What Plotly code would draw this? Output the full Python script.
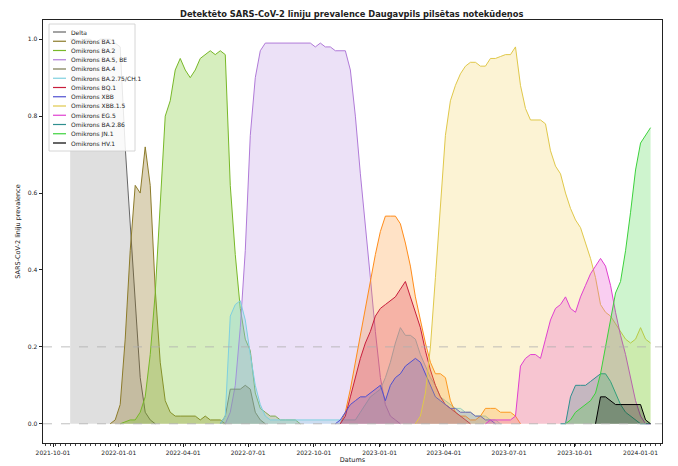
import pandas as pd
import plotly.graph_objects as go

TITLE = "Detektēto SARS-CoV-2 līniju prevalence Daugavpils pilsētas notekūdeņos"
X_LABEL = "Datums"
Y_LABEL = "SARS-CoV-2 līniju prevalence"
WEEK0 = "2021-10-25"  # first weekly sample

# each series: (first weekly index, weekly values)
delta = (0, [1.0, 1.0, 0.99, 1.0, 1.0, 0.99, 1.0, 1.0, 1.0, 0.99, 0.98, 0.72, 0.52, 0.30, 0.12, 0.03, 0.01, 0.0])
ba1 = (8, [0.0, 0.01, 0.05, 0.22, 0.45, 0.62, 0.60, 0.72, 0.62, 0.35, 0.16, 0.06, 0.03, 0.02, 0.02, 0.02,
           0.02, 0.02, 0.01, 0.02, 0.01, 0.01, 0.01, 0.0])
ba2 = (10, [0.0, 0.005, 0.01, 0.01, 0.03, 0.07, 0.18, 0.34, 0.58, 0.80, 0.84, 0.92, 0.95, 0.92, 0.90, 0.92,
            0.95, 0.96, 0.97, 0.96, 0.97, 0.96, 0.62, 0.44, 0.30, 0.22, 0.19, 0.08, 0.04, 0.03, 0.02, 0.02,
            0.01, 0.01, 0.01, 0.01, 0.0])
ba5 = (31, [0.0, 0.03, 0.10, 0.25, 0.45, 0.75, 0.90, 0.97, 0.99, 0.99, 0.99, 0.99, 0.99, 0.99, 0.99, 0.99,
            0.99, 0.99, 0.98, 0.99, 0.98, 0.98, 0.97, 0.97, 0.97, 0.92, 0.80, 0.65, 0.52, 0.38, 0.24, 0.12,
            0.05, 0.02, 0.01, 0.0])
ba4 = (30, [0.0, 0.02, 0.09, 0.09, 0.09, 0.10, 0.09, 0.03, 0.01, 0.0])
ba275 = (30, [0.0, 0.02, 0.28, 0.31, 0.32, 0.27, 0.18, 0.10, 0.05, 0.02, 0.01, 0.01, 0.01, 0.01, 0.01, 0.01,
              0.01, 0.01, 0.01, 0.01, 0.01, 0.01, 0.01, 0.01, 0.01, 0.01, 0.01, 0.01, 0.03, 0.05, 0.07, 0.08,
              0.09, 0.12, 0.16, 0.21, 0.25, 0.23, 0.23, 0.22, 0.18, 0.15, 0.12, 0.10, 0.07, 0.06, 0.05, 0.04,
              0.04, 0.03, 0.03, 0.02, 0.02, 0.02, 0.01, 0.01, 0.0])
bf7 = (54, [0.0, 0.03, 0.09, 0.16, 0.24, 0.31, 0.38, 0.44, 0.50, 0.54, 0.54, 0.54, 0.52, 0.47, 0.41, 0.33,
            0.27, 0.21, 0.16, 0.13, 0.13, 0.12, 0.06, 0.03, 0.02, 0.02, 0.01, 0.01, 0.02, 0.04, 0.04, 0.04,
            0.03, 0.03, 0.03, 0.02, 0.0])
bq1 = (54, [0.0, 0.02, 0.07, 0.12, 0.17, 0.21, 0.24, 0.28, 0.30, 0.31, 0.32, 0.33, 0.35, 0.37, 0.33, 0.29,
            0.25, 0.19, 0.14, 0.10, 0.07, 0.05, 0.04, 0.03, 0.02, 0.01, 0.0])
xbb = (53, [0.0, 0.01, 0.03, 0.05, 0.06, 0.07, 0.07, 0.08, 0.09, 0.10, 0.06, 0.10, 0.12, 0.13, 0.15, 0.16,
            0.17, 0.16, 0.13, 0.10, 0.07, 0.06, 0.05, 0.04, 0.04, 0.03, 0.03, 0.03, 0.02, 0.02, 0.01, 0.01, 0.0])
xbb15 = (69, [0.0, 0.02, 0.08, 0.20, 0.38, 0.58, 0.75, 0.84, 0.88, 0.91, 0.93, 0.94, 0.94, 0.93, 0.93, 0.95,
              0.95, 0.955, 0.96, 0.96, 0.98, 0.88, 0.82, 0.79, 0.79, 0.79, 0.78, 0.71, 0.67, 0.65, 0.60, 0.56,
              0.53, 0.51, 0.47, 0.43, 0.38, 0.31, 0.29, 0.28, 0.26, 0.24, 0.22, 0.21, 0.22, 0.25, 0.22, 0.21])
eg5 = (83, [0.0, 0.01, 0.01, 0.01, 0.01, 0.01, 0.02, 0.15, 0.17, 0.18, 0.18, 0.17, 0.22, 0.27, 0.30, 0.31,
            0.33, 0.30, 0.29, 0.33, 0.36, 0.39, 0.41, 0.43, 0.41, 0.36, 0.29, 0.23, 0.18, 0.12, 0.06, 0.02,
            0.0, 0.0])
ba286 = (98, [0.0, 0.0, 0.07, 0.10, 0.10, 0.10, 0.11, 0.12, 0.13, 0.13, 0.11, 0.08, 0.05, 0.03, 0.02, 0.01,
              0.0, 0.0, 0.0])
jn1 = (99, [0.0, 0.01, 0.03, 0.04, 0.05, 0.06, 0.08, 0.13, 0.20, 0.27, 0.34, 0.37, 0.45, 0.55, 0.66, 0.73,
            0.75, 0.77])
hv1 = (105, [0.0, 0.07, 0.07, 0.06, 0.05, 0.05, 0.05, 0.05, 0.05, 0.05, 0.01, 0.0])

# (name, data, line colour, fill colour, in legend)
SERIES = [
    ("Delta", delta, "#666666", "rgba(128,128,128,0.25)", True),
    ("Omikrons BA.1", ba1, "#8c7b2a", "rgba(140,110,20,0.30)", True),
    ("Omikrons BA.2", ba2, "#78b828", "rgba(120,200,40,0.30)", True),
    ("Omikrons BA.5, BE", ba5, "#b07ad8", "rgba(170,120,220,0.22)", True),
    ("Omikrons BA.4", ba4, "#7a7a50", "rgba(120,120,80,0.30)", True),
    ("Omikrons BA.2.75/CH.1", ba275, "#7fd0e0", "rgba(127,208,224,0.30)", True),
    ("Omikrons BF.7", bf7, "#ff8c1a", "rgba(255,140,26,0.25)", False),
    ("Omikrons BQ.1", bq1, "#c81e3c", "rgba(220,40,70,0.25)", True),
    ("Omikrons XBB", xbb, "#5050d0", "rgba(80,80,208,0.20)", True),
    ("Omikrons XBB.1.5", xbb15, "#e0c84a", "rgba(240,200,60,0.22)", True),
    ("Omikrons EG.5", eg5, "#e040d0", "rgba(230,60,200,0.25)", True),
    ("Omikrons BA.2.86", ba286, "#2f8f8f", "rgba(47,143,143,0.25)", True),
    ("Omikrons JN.1", jn1, "#3cd23c", "rgba(60,210,60,0.25)", True),
    ("Omikrons HV.1", hv1, "#000000", "rgba(0,0,0,0.25)", True),
]

fig = go.Figure()
for name, (start, vals), lc, fc, _ in SERIES:
    dates = pd.date_range(WEEK0, periods=start + len(vals), freq="7D")[start:]
    fig.add_trace(go.Scatter(x=dates, y=vals, name=name, mode="lines",
                             line=dict(color=lc, width=1), fill="tozeroy", fillcolor=fc,
                             showlegend=False))

shapes = []
for yv in (0.0, 0.2):
    shapes.append(dict(type="line", xref="paper", yref="y", x0=0, x1=1, y0=yv, y1=yv,
                       line=dict(color="#b0b0b0", width=0.8, dash="dash"), layer="above"))

# legend drawn as text + sample lines (matplotlib-like compact legend)
PW, PH = 619.0, 423.0
def px(x):
    return (x - 43) / PW
def py(y):
    return (443 - y) / PH

shapes.append(dict(type="rect", xref="paper", yref="paper", x0=px(49), x1=px(135), y0=py(151), y1=py(24),
                   fillcolor="rgba(255,255,255,0.85)", line=dict(color="#cccccc", width=0.8), layer="above"))
annotations = []
legend_items = [s for s in SERIES if s[4]]
for i, (name, _, lc, _, _) in enumerate(legend_items):
    yy = 32 + 9.25 * i
    shapes.append(dict(type="line", xref="paper", yref="paper", x0=px(53), x1=px(66), y0=py(yy), y1=py(yy),
                       line=dict(color=lc, width=1.2), layer="above"))
    annotations.append(dict(text=name, xref="paper", yref="paper", x=px(69), y=py(yy), xanchor="left",
                            yanchor="middle", showarrow=False,
                            font=dict(family="DejaVu Sans", size=6, color="#222222")))

# the page body has an 8px margin, so the figure is 8px smaller each way
fig.update_layout(
    width=670, height=458,
    margin=dict(l=35, r=16, t=12, b=23, autoexpand=False),
    paper_bgcolor="white", plot_bgcolor="white",
    font=dict(family="DejaVu Sans", color="#222222"),
    title=dict(text="<b>" + TITLE + "</b>", x=0.513, xanchor="center", y=0.987, yanchor="middle",
               font=dict(size=8.3)),
    shapes=shapes, annotations=annotations,
    showlegend=False,
)
fig.update_xaxes(type="date", range=["2021-09-17", "2024-01-31"], tick0="2021-10-01", dtick="M3",
                 tickformat="%Y-%m-%d", ticks="outside", ticklen=3.5, tickcolor="#222222",
                 tickfont=dict(size=6), showline=True, mirror=True, linecolor="#222222", linewidth=0.8,
                 showgrid=False, zeroline=False, automargin=False,
                 minor=dict(ticks="outside", ticklen=2, tickcolor="#444444", dtick=7 * 86400000,
                            tick0="2021-10-04", showgrid=False),
                 title=dict(text=X_LABEL, font=dict(size=6.5), standoff=0))
fig.update_yaxes(range=[-0.05, 1.05], dtick=0.2, tick0=0, tickformat=".1f", ticks="outside", ticklen=3.5,
                 tickcolor="#222222", tickfont=dict(size=6), showline=True, mirror=True,
                 linecolor="#222222", linewidth=0.8, showgrid=False, zeroline=False, automargin=False,
                 title=dict(text=Y_LABEL, font=dict(size=6.5), standoff=6))

fig.write_html("out.html")
